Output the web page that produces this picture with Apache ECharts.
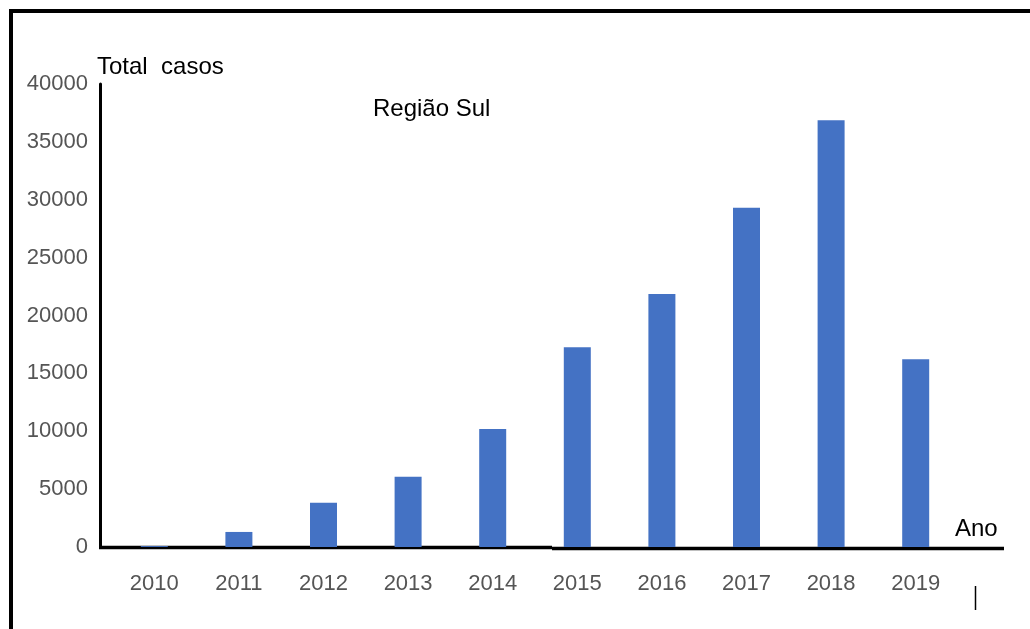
<!DOCTYPE html>
<html>
<head>
<meta charset="utf-8">
<style>
  html, body { margin: 0; padding: 0; background: #ffffff; }
  #chart { width: 1030px; height: 629px; }
</style>
<script src="https://cdn.jsdelivr.net/npm/echarts@6/dist/echarts.min.js"></script>
</head>
<body>
<div id="chart"></div>
<script>
// Casos por ano, Região Sul
const anos = ['2010', '2011', '2012', '2013', '2014', '2015', '2016', '2017', '2018', '2019'];
const totalCasos = [80, 1300, 3830, 6070, 10190, 17250, 21850, 29300, 36870, 16230];
const yTicks = { min: 0, max: 40000, interval: 5000 };

const chart = echarts.init(document.getElementById('chart'), null, { renderer: 'canvas' });

const labelFont = 'Liberation Sans, Arial, sans-serif';

chart.setOption({
  animation: false,
  backgroundColor: '#ffffff',
  title: {
    text: 'Região Sul',
    left: 368,
    top: 92,
    textStyle: { fontFamily: labelFont, fontSize: 24, fontWeight: 'normal', color: '#000000' }
  },
  grid: { left: 112, right: 72, top: 84, bottom: 82, containLabel: false },
  xAxis: {
    type: 'category',
    data: anos,
    axisLine: { show: false },
    axisTick: { show: false },
    axisLabel: { color: '#555555', fontFamily: labelFont, fontSize: 22, margin: 26 }
  },
  yAxis: {
    type: 'value',
    min: yTicks.min,
    max: yTicks.max,
    interval: yTicks.interval,
    offset: 12,
    splitLine: { show: false },
    axisTick: { show: false },
    axisLine: { show: true, lineStyle: { color: '#000000', width: 3 } },
    axisLabel: {
      color: '#555555', fontFamily: labelFont, fontSize: 22, margin: 12,
      formatter: (v) => String(v)
    }
  },
  series: [{
    type: 'bar',
    data: totalCasos,
    barWidth: 27,
    itemStyle: { color: '#4472C4' }
  }],
  graphic: [
    // moldura (topo e lado esquerdo)
    { type: 'line', shape: { x1: 9, y1: 11, x2: 1030, y2: 11 }, style: { stroke: '#000', lineWidth: 4 } },
    { type: 'line', shape: { x1: 11, y1: 9, x2: 11, y2: 629 }, style: { stroke: '#000', lineWidth: 4 } },
    // eixo horizontal
    { type: 'line', shape: { x1: 99, y1: 547.5, x2: 552, y2: 547.5 }, style: { stroke: '#000', lineWidth: 3.5 } },
    { type: 'line', shape: { x1: 552, y1: 548.5, x2: 1004, y2: 548.5 }, style: { stroke: '#000', lineWidth: 3.5 } },
    // marca vertical
    { type: 'line', shape: { x1: 975.5, y1: 586, x2: 975.5, y2: 610 }, style: { stroke: '#000', lineWidth: 1.5 } },
    // títulos dos eixos
    { type: 'text', left: 97, top: 55, style: { text: 'Total  casos', fontFamily: labelFont, fontSize: 24, fill: '#000' } },
    { type: 'text', left: 955, top: 517, style: { text: 'Ano', fontFamily: labelFont, fontSize: 24, fill: '#000' } }
  ]
});
</script>
</body>
</html>
